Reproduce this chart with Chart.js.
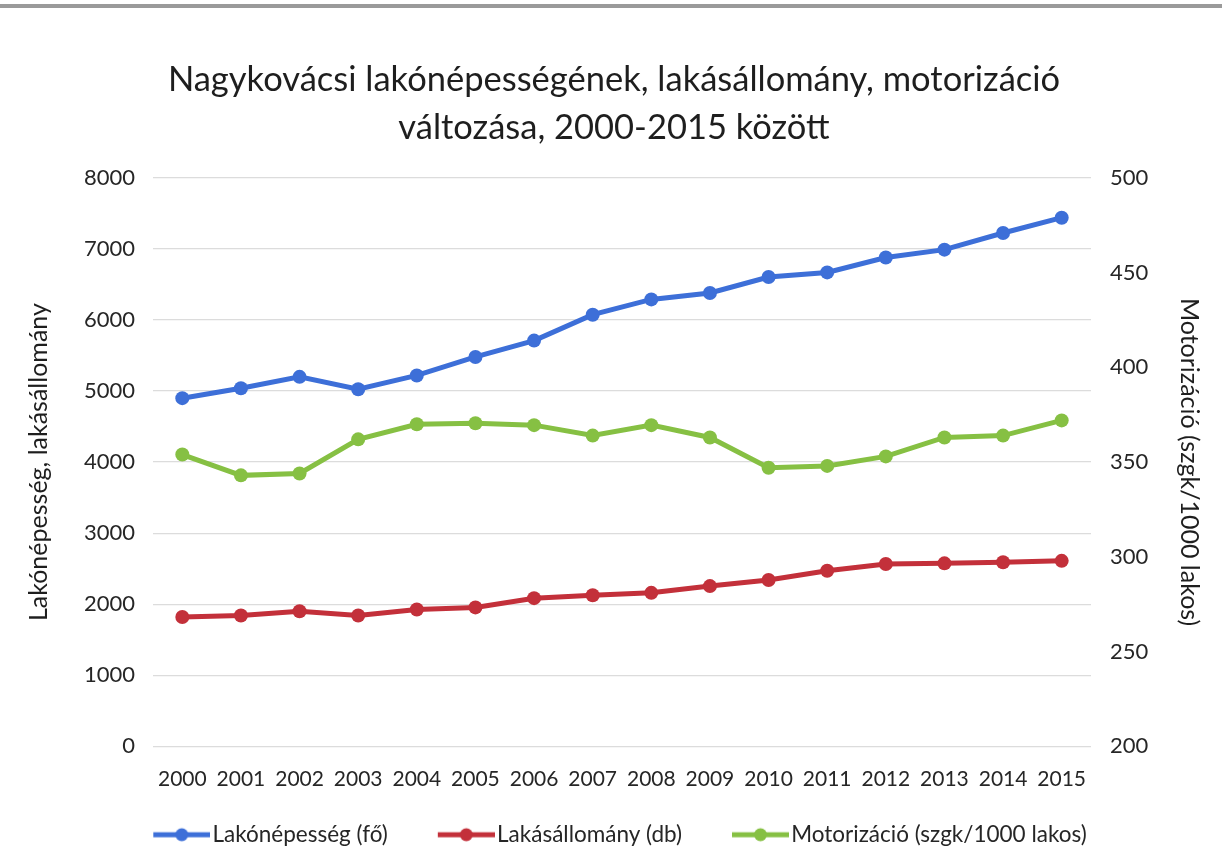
<!DOCTYPE html>
<html lang="hu">
<head>
<meta charset="utf-8">
<title>Nagykovácsi lakónépesség, lakásállomány, motorizáció</title>
<script src="https://cdn.jsdelivr.net/npm/chart.js@4/dist/chart.umd.min.js"></script>
<style>
    html, body { margin: 0; padding: 0; background: #fff; overflow: hidden; }
    #wrap { position: absolute; left: 0; top: 0; width: 1222px; height: 868px; }
    #edge { position: absolute; left: 0; top: 4px; width: 1222px; height: 4px; background: #9a9a9a; }
</style>
</head>
<body>
<div id="wrap"><canvas id="chart" width="1222" height="868"></canvas></div>
<div id="edge"></div>
<script>
// adatok (leolvasva az ábráról)
const evek = ['2000', '2001', '2002', '2003', '2004', '2005', '2006', '2007', '2008', '2009', '2010', '2011', '2012', '2013', '2014', '2015'];
const lakonepesseg = [4900, 5040, 5200, 5025, 5220, 5480, 5710, 6075, 6290, 6380, 6605, 6670, 6880, 6990, 7225, 7440];
const lakasallomany = [1820, 1840, 1900, 1840, 1925, 1955, 2085, 2125, 2160, 2255, 2340, 2470, 2565, 2575, 2590, 2610];
const motorizacio = [354, 343, 344, 362, 370, 370.5, 369.5, 364, 369.5, 363, 347, 348, 353, 363, 364, 372];

const seriesNames = ['Lakónépesség (fő)', 'Lakásállomány (db)', 'Motorizáció (szgk/1000 lakos)'];
const seriesColors = ['#3d6fd8', '#c3303a', '#86c043'];

const FONT = 'Lato, "Open Sans", sans-serif';
const legendBox = 86;

// vonal + pont a jelmagyarázathoz
function legendIcon(color) {
    const c = document.createElement('canvas');
    c.width = legendBox + 18;
    c.height = 16;
    const g = c.getContext('2d');
    g.strokeStyle = color;
    g.lineWidth = 5;
    g.beginPath();
    g.moveTo(c.width - 57, 8);
    g.lineTo(c.width, 8);
    g.stroke();
    g.fillStyle = color;
    g.beginPath();
    g.arc(c.width - 28.5, 8, 6.5, 0, Math.PI * 2);
    g.fill();
    return c;
}

function lineDataset(label, data, color, axis) {
    return {
        label: label,
        data: data,
        yAxisID: axis,
        borderColor: color,
        backgroundColor: color,
        borderWidth: 5,
        pointRadius: 7,
        pointBorderWidth: 0,
        pointBackgroundColor: color,
        tension: 0
    };
}

// a jelmagyarázat kicsit balra tolva (az ikonok bal oldali üres része miatt)
const legendShift = {
    id: 'legendShift',
    afterLayout(chart) {
        if (chart.legend) {
            chart.legend.left -= 13;
            chart.legend.right -= 13;
        }
    }
};

const ctx = document.getElementById('chart').getContext('2d');
new Chart(ctx, {
    type: 'line',
    data: {
        labels: evek,
        datasets: [
            lineDataset(seriesNames[0], lakonepesseg, seriesColors[0], 'y'),
            lineDataset(seriesNames[1], lakasallomany, seriesColors[1], 'y'),
            lineDataset(seriesNames[2], motorizacio, seriesColors[2], 'y1')
        ]
    },
    plugins: [legendShift],
    options: {
        responsive: false,
        animation: false,
        layout: { padding: { top: 56, left: 20, right: 14, bottom: 12 } },
        plugins: {
            title: {
                display: true,
                text: ['Nagykovácsi lakónépességének, lakásállomány, motorizáció', 'változása, 2000-2015 között'],
                color: '#1e1e1e',
                font: { family: FONT, size: 34.5, weight: 'normal', lineHeight: 1.39 },
                padding: { top: 0, bottom: 26 }
            },
            legend: {
                position: 'bottom',
                labels: {
                    color: '#262626',
                    font: { family: FONT, size: 22.5 },
                    usePointStyle: true,
                    pointStyleWidth: legendBox,
                    padding: 12,
                    generateLabels: (chart) => {
                        const items = Chart.defaults.plugins.legend.labels.generateLabels(chart);
                        items.forEach((it, i) => { it.pointStyle = legendIcon(seriesColors[i]); });
                        return items;
                    }
                }
            },
            tooltip: { enabled: false }
        },
        scales: {
            x: {
                offset: true,
                grid: { display: false, drawTicks: false },
                border: { display: false },
                ticks: { color: '#262626', font: { family: FONT, size: 21 }, padding: 20, maxRotation: 0, autoSkip: false }
            },
            y: {
                position: 'left',
                min: 0,
                max: 8000,
                ticks: {
                    stepSize: 1000,
                    color: '#262626',
                    font: { family: FONT, size: 22 },
                    padding: 18,
                    callback: (v) => String(v)
                },
                grid: { color: '#dcdcdc', lineWidth: 1.3, drawTicks: false },
                border: { display: false },
                title: {
                    display: true,
                    text: 'Lakónépesség, lakásállomány',
                    color: '#1e1e1e',
                    font: { family: FONT, size: 25 },
                    padding: { top: 4, bottom: 4 }
                },
                afterFit: (scale) => { scale.width = 133; }
            },
            y1: {
                position: 'right',
                min: 200,
                max: 500,
                ticks: {
                    stepSize: 50,
                    color: '#262626',
                    font: { family: FONT, size: 22 },
                    padding: 19,
                    callback: (v) => String(v)
                },
                grid: { display: false, drawTicks: false },
                border: { display: false },
                title: {
                    display: true,
                    text: 'Motorizáció (szgk/1000 lakos)',
                    color: '#1e1e1e',
                    font: { family: FONT, size: 25 },
                    padding: { top: 4, bottom: 4 }
                },
                afterFit: (scale) => { scale.width = 117; }
            }
        }
    }
});
</script>
</body>
</html>
